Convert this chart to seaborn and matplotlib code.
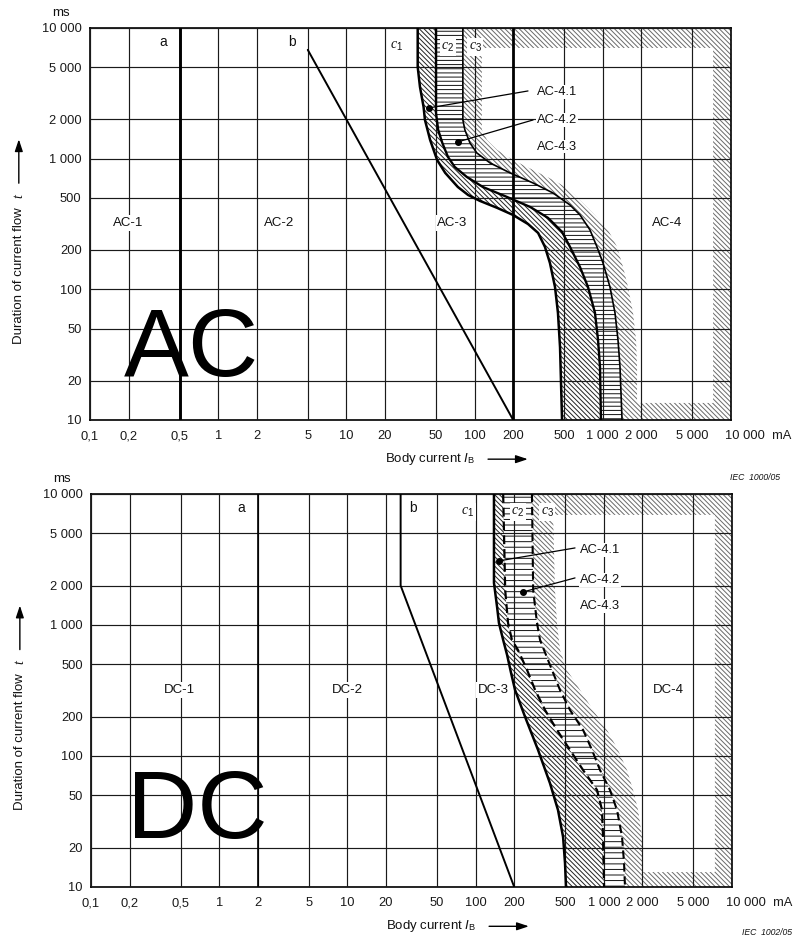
import matplotlib
matplotlib.use('Agg')
import matplotlib.pyplot as plt
import seaborn as sns

# ---------------- axis ticks ----------------
x_ticks = [0.1, 0.2, 0.5, 1, 2, 5, 10, 20, 50, 100, 200, 500, 1000, 2000, 5000, 10000]
x_tick_labels = ['0,1', '0,2', '0,5', '1', '2', '5', '10', '20', '50', '100', '200',
                 '500', '1 000', '2 000', '5 000', '10 000']
y_ticks = [10, 20, 50, 100, 200, 500, 1000, 2000, 5000, 10000]
y_tick_labels = ['10', '20', '50', '100', '200', '500', '1 000', '2 000', '5 000', '10 000']

# ---------------- AC curves (mA, ms) ----------------
ac_a_mA = 0.5
ac_thick_mA = 200
ac_b_mA = [5, 200]
ac_b_ms = [6800, 10]
ac_c1_mA = [36, 36, 37.5, 40, 41, 45, 51, 59, 74, 89, 110, 150, 199, 261, 313, 354, 387, 424, 447, 464, 481]
ac_c1_ms = [10000, 5030, 3540, 2490, 1980, 1390, 977, 778, 607, 527, 475, 420, 371, 316, 270, 211, 159, 104, 66, 36, 10]
ac_c2_mA = [50, 50, 52, 56, 62, 70, 87, 116, 179, 271, 374, 481, 555, 664, 767, 869, 918, 951, 968]
ac_c2_ms = [10000, 2237, 1659, 1320, 1030, 864, 724, 607, 509, 427, 352, 275, 211, 148, 104, 66, 41, 25.5, 10]
ac_c3_mA = [81, 81, 84, 92, 104, 132, 189, 285, 409, 555, 664, 794, 901, 1004, 1138, 1245, 1314, 1362, 1413]
ac_c3_ms = [10000, 1980, 1659, 1320, 1106, 927, 778, 652, 546, 442, 371, 285, 211, 159, 104, 66, 41, 25.5, 10]
ac_edge_mA = [114, 114, 125, 150, 199, 285, 409, 526, 701, 839, 1099, 1292, 1439, 1574, 1722, 1817, 1850, 1850]
ac_edge_ms = [7030, 1659, 1390, 1166, 977, 820, 687, 597, 458, 384, 285, 211, 148, 104, 66, 41, 25.5, 13.5]
ac_frame = [7250, 7030, 13.5]   # inner right (mA), inner top (ms), inner bottom (ms)

# ---------------- DC curves (mA, ms) ----------------
dc_a_mA = 2
dc_b_mA = [26, 26, 200]
dc_b_ms = [10000, 2000, 10]
dc_c1_mA = [139, 139, 147, 152, 164, 176, 189, 203, 243, 307, 380, 439, 481, 498, 507]
dc_c1_ms = [10000, 2094, 1372, 1036, 768, 590, 430, 319, 199, 111, 62, 38.7, 24.1, 15.2, 10]
dc_c2_mA = [164, 170, 179, 192, 214, 252, 291, 348, 431, 545, 689, 885, 968, 986, 1004]
dc_c2_ms = [10000, 1849, 1036, 768, 644, 453, 319, 224, 158, 111, 78, 55, 38.7, 24.1, 10]
dc_c3_mA = [275, 281, 301, 318, 354, 394, 455, 545, 689, 809, 934, 1117, 1267, 1387, 1438, 1462]
dc_c3_ms = [10000, 1849, 1036, 768, 590, 453, 319, 224, 158, 111, 78, 55, 38.7, 24.1, 15.2, 10]
dc_edge_mA = [402, 416, 431, 455, 516, 652, 824, 1059, 1291, 1517, 1690, 1849, 1986, 2023]
dc_edge_ms = [6920, 1849, 1036, 644, 453, 319, 224, 158, 111, 78, 55, 38.7, 24.1, 13.0]
dc_frame = [7350, 6920, 13.0]

# ---------------- labels (text, mA, ms) ----------------
ac_zone_labels = [('AC-1', 0.2, 322), ('AC-2', 3.0, 322), ('AC-3', 67, 322), ('AC-4', 3170, 322)]
dc_zone_labels = [('DC-1', 0.49, 319), ('DC-2', 10, 319), ('DC-3', 137, 319), ('DC-4', 3170, 319)]
ac_curve_labels = [('a', 0.37, 7820), ('b', 3.77, 7820), (r'$c_{\mathrm{1}}$', 24.8, 7300),
                   (r'$c_{\mathrm{2}}$', 62, 7160), (r'$c_{\mathrm{3}}$', 101, 7160)]
dc_curve_labels = [('a', 1.48, 7820), ('b', 32.5, 7820), (r'$c_{\mathrm{1}}$', 87, 7290),
                   (r'$c_{\mathrm{2}}$', 214, 7290), (r'$c_{\mathrm{3}}$', 361, 7290)]
# callouts: text, dot (mA, ms), line end (mA, ms), text position (mA, ms)
ac_callouts = [('AC-4.1', (44, 2443), (261, 3296), (307, 3236)),
               ('AC-4.2', (74, 1343), (286, 1977), (307, 1980)),
               ('AC-4.3', None, None, (307, 1231))]
dc_callouts = [('AC-4.1', (152, 3083), (596, 3872), (652, 3741)),
               ('AC-4.2', (234, 1786), (596, 2286), (652, 2208)),
               ('AC-4.3', None, None, (652, 1396))]

# ---------------- style ----------------
sns.set_theme(style='white')
plt.rcParams['font.family'] = ['Liberation Sans', 'DejaVu Sans']
plt.rcParams['mathtext.fontset'] = 'custom'
plt.rcParams['mathtext.rm'] = 'Liberation Sans'
plt.rcParams['mathtext.it'] = 'Liberation Serif:italic'
plt.rcParams['mathtext.sf'] = 'Liberation Sans:italic'
plt.rcParams['hatch.linewidth'] = 0.7

INK = '#111111'
DIAG = '\\' * 7

fig = plt.figure(figsize=(8.04, 9.48), dpi=100)
ax_ac = fig.add_axes([0.1119, 0.5570, 0.7973, 0.4135])
ax_dc = fig.add_axes([0.1132, 0.06435, 0.7973, 0.4146])


def setup(ax):
    ax.set_xscale('log')
    ax.set_yscale('log')
    ax.set_xlim(x_ticks[0], x_ticks[-1])
    ax.set_ylim(y_ticks[0], y_ticks[-1])
    ax.set_xticks(x_ticks)
    ax.set_xticklabels(x_tick_labels[:-1] + [''])
    ax.set_yticks(y_ticks)
    ax.set_yticklabels(y_tick_labels)
    ax.minorticks_off()
    ax.tick_params(length=0, labelsize=9.3, colors='#1a1a1a')
    ax.tick_params(axis='x', pad=7.5)
    ax.tick_params(axis='y', pad=6)
    ax.grid(True, which='major', color='#1a1a1a', linewidth=0.85)
    ax.set_axisbelow(False)
    for s in ax.spines.values():
        s.set_visible(True)
        s.set_color('black')
        s.set_linewidth(1.2)


def poly(ax, xs, ys, hatch, color, z, face='white'):
    ax.fill(xs, ys, facecolor=face, edgecolor=color, hatch=hatch, linewidth=0, zorder=z)


def curve(ax, x, y, lw, dashed=False):
    sns.lineplot(x=x, y=y, sort=False, estimator=None, color='black',
                 linewidth=lw, ax=ax, zorder=3)
    line = ax.lines[-1]
    if dashed:
        line.set_dashes([4, 2.2])


def panel(ax, c1x, c1y, c2x, c2y, c3x, c3y, ex, ey, frame, hband, dashed):
    setup(ax)
    # AC-4.3 / outer frame region (light hatch) with white hole
    poly(ax, list(c3x) + [x_ticks[-1], x_ticks[-1]], list(c3y) + [y_ticks[0], y_ticks[-1]],
         DIAG, '#6a6a6a', 1.0)
    poly(ax, list(ex) + [frame[0], frame[0]], list(ey) + [frame[2], frame[1]],
         None, 'white', 1.2)
    # AC-4.1 band (dark hatch)
    poly(ax, list(c1x) + list(c2x)[::-1], list(c1y) + list(c2y)[::-1], DIAG, '#222222', 1.1)
    # AC-4.2 band (horizontal hatch)
    poly(ax, list(c2x) + list(c3x)[::-1], list(c2y) + list(c3y)[::-1], hband, '#111111', 1.1)
    curve(ax, c1x, c1y, 1.8)
    curve(ax, c2x, c2y, 1.7 if not dashed else 1.6, dashed)
    curve(ax, c3x, c3y, 1.2 if not dashed else 1.5, dashed)


def texts(ax, zone_labels, curve_labels, callouts, big, big_pos, iec, iec_pos):
    bb = dict(boxstyle='square,pad=0.12', fc='white', ec='none')
    for t, x, y in zone_labels:
        ax.text(x, y, t, ha='center', va='center', fontsize=9.5, color=INK, bbox=bb, zorder=5)
    for t, x, y in curve_labels:
        ax.text(x, y, t, ha='center', va='center', fontsize=10, color=INK, bbox=bb, zorder=5)
    for t, dot, end, pos in callouts:
        ax.text(pos[0], pos[1], t, ha='left', va='center', fontsize=9.3, color=INK,
                bbox=dict(boxstyle='square,pad=0.05', fc='white', ec='none'), zorder=5)
        if dot is not None:
            ax.plot([dot[0], end[0]], [dot[1], end[1]], color='black', lw=0.9, zorder=6)
            ax.plot([dot[0]], [dot[1]], 'o', color='black', ms=4, zorder=6)
    ax.text(big_pos[0], big_pos[1], big, transform=ax.transAxes, fontsize=70,
            ha='center', va='baseline', color='black', zorder=6)
    # axis captions
    ax.text(-0.045, 1.037, 'ms', transform=ax.transAxes, ha='center', va='center',
            fontsize=9.5, color=INK)
    ax.text(0.991, -0.0265, x_tick_labels[-1] + '  mA', transform=ax.transAxes,
            ha='left', va='top', fontsize=9.3, color='#1a1a1a')
    ax.text(0.46, -0.1, r'Body current $\mathsf{I}_{\mathrm{B}}$', transform=ax.transAxes,
            ha='left', va='center', fontsize=9.5, color=INK)
    ax.annotate('', xy=(0.683, -0.1), xytext=(0.621, -0.1), xycoords='axes fraction',
                textcoords='axes fraction', annotation_clip=False,
                arrowprops=dict(arrowstyle='-|>,head_length=0.6,head_width=0.2',
                                color='black', lw=1.0, shrinkA=0, shrinkB=0))
    ax.text(-0.111, 0.195, 'Duration of current flow', transform=ax.transAxes,
            rotation=90, ha='center', va='bottom', fontsize=9.5, color=INK)
    ax.text(-0.111, 0.572, '$t$', transform=ax.transAxes, rotation=90, ha='center',
            va='center', fontsize=10, color=INK)
    ax.annotate('', xy=(-0.111, 0.716), xytext=(-0.111, 0.604), xycoords='axes fraction',
                textcoords='axes fraction', annotation_clip=False,
                arrowprops=dict(arrowstyle='-|>,head_length=0.6,head_width=0.2',
                                color='black', lw=1.0, shrinkA=0, shrinkB=0))
    ax.text(iec_pos[0], iec_pos[1], iec, transform=ax.transAxes, ha='left', va='center',
            fontsize=6.2, style='italic', color=INK)


# ---------------- AC panel ----------------
panel(ax_ac, ac_c1_mA, ac_c1_ms, ac_c2_mA, ac_c2_ms, ac_c3_mA, ac_c3_ms,
      ac_edge_mA, ac_edge_ms, ac_frame, '----', False)
curve(ax_ac, [ac_a_mA, ac_a_mA], [y_ticks[0], y_ticks[-1]], 2.1)
curve(ax_ac, [ac_thick_mA, ac_thick_mA], [y_ticks[0], y_ticks[-1]], 2.0)
curve(ax_ac, ac_b_mA, ac_b_ms, 1.4)
texts(ax_ac, ac_zone_labels, ac_curve_labels, ac_callouts, 'AC', (0.158, 0.113),
      'IEC  1000/05', (0.998, -0.148))

# ---------------- DC panel ----------------
panel(ax_dc, dc_c1_mA, dc_c1_ms, dc_c2_mA, dc_c2_ms, dc_c3_mA, dc_c3_ms,
      dc_edge_mA, dc_edge_ms, dc_frame, '---', True)
curve(ax_dc, [dc_a_mA, dc_a_mA], [y_ticks[0], y_ticks[-1]], 1.2)
curve(ax_dc, dc_b_mA, dc_b_ms, 1.4)
texts(ax_dc, dc_zone_labels, dc_curve_labels, dc_callouts, 'DC', (0.166, 0.125),
      'IEC  1002/05', (1.016, -0.117))

fig.savefig('out.png', dpi=100)
